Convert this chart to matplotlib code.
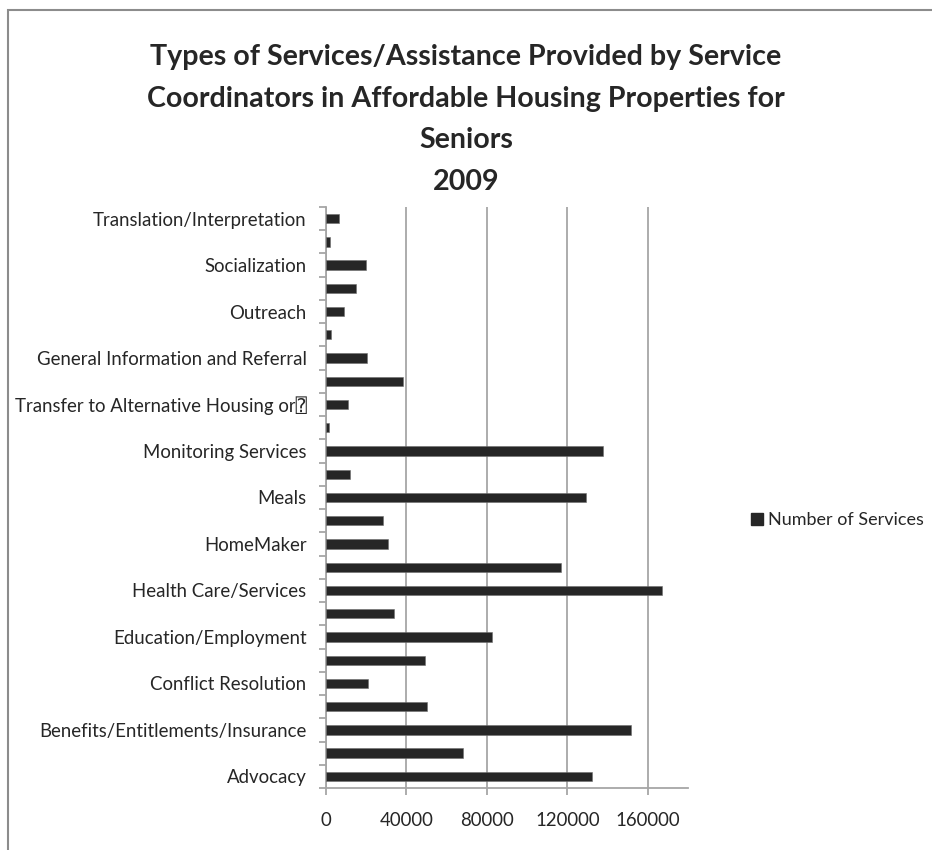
import numpy as np
import matplotlib
matplotlib.use("Agg")
import matplotlib.pyplot as plt
from matplotlib.patches import Rectangle, Patch

plt.rcParams['font.family'] = ['Lato', 'DejaVu Sans', 'DejaVu Sans Mono']

# categories bottom -> top (Excel only shows every second label)
categories = [
    "Advocacy", "Assessment",
    "Benefits/Entitlements/Insurance", "Case Management",
    "Conflict Resolution", "Crisis Intervention",
    "Education/Employment", "Financial Management",
    "Health Care/Services", "Health Education",
    "HomeMaker", "Housing",
    "Meals", "Medication Management",
    "Monitoring Services", "Other",
    "Transfer to Alternative Housing or\u2370", "Personal Care",
    "General Information and Referral", "Legal",
    "Outreach", "Recreation",
    "Socialization", "Transportation",
    "Translation/Interpretation",
]
n_services = [
    132200, 68200, 151700, 50200, 21000, 49400, 82300, 33600,
    167000, 116800, 30600, 28100, 129200, 12100, 137500, 1500,
    10700, 38500, 20300, 2700, 9000, 14700, 19700, 1800, 6500,
]
xticks = [0, 40000, 80000, 120000, 160000]

TXT = '#262626'
GRID = '#a6a6a6'
BAR = '#262626'

fig = plt.figure(figsize=(9.32, 8.5), dpi=100)
W, H = 932, 850
ax = fig.add_axes([326 / W, 1 - 788 / H, (688 - 326) / W, (788 - 207) / H])

pos = np.arange(len(categories))
ax.barh(pos, n_services, height=0.4, color=BAR, edgecolor='#6e6e6e', lw=0.4,
        label='Number of Services', zorder=3)

ax.set_xlim(0, 180000)
ax.set_ylim(-0.5, len(categories) - 0.5)
ax.set_xticks(xticks)
ax.set_xticklabels([str(v) for v in xticks], fontsize=13.4, color=TXT)
ax.set_yticks(pos[::2])
ax.set_yticklabels(categories[::2], fontsize=13.4, color=TXT)
ax.set_yticks(np.arange(-0.5, len(categories), 1.0), minor=True)
ax.tick_params(axis='y', which='major', length=0, pad=14)
ax.tick_params(axis='y', which='minor', length=5, color=GRID, width=1.3)
ax.tick_params(axis='x', length=5, color=GRID, width=1.3, pad=12)

ax.xaxis.grid(True, color=GRID, lw=1.3)
ax.set_axisbelow(True)
for s in ['top', 'right']:
    ax.spines[s].set_visible(False)
for s in ['left', 'bottom']:
    ax.spines[s].set_color(GRID)
    ax.spines[s].set_linewidth(1.3)

fig.text(0.5, 1 - 44 / H,
         "Types of Services/Assistance Provided by Service\n"
         "Coordinators in Affordable Housing Properties for\n"
         "Seniors\n2009",
         ha='center', va='top', fontsize=20.6, fontweight='bold', color=TXT,
         linespacing=1.75)

fig.legend(handles=[Patch(color=BAR)], labels=['Number of Services'],
           loc='center left', bbox_to_anchor=(735 / W, 1 - 520 / H),
           frameon=False, fontsize=13, handlelength=0.65, handleheight=0.65,
           handletextpad=0.3, labelcolor=TXT)

fig.add_artist(Rectangle((8 / W, -0.1), 1.2, 1 - 10 / H + 0.1,
                         transform=fig.transFigure, fill=False,
                         edgecolor='#8c8c8c', lw=1.5))

fig.savefig("out.png", dpi=100)
